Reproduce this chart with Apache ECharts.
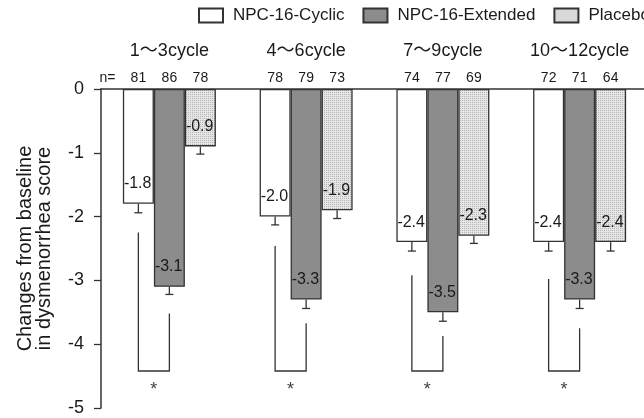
<!DOCTYPE html>
<html>
<head>
<meta charset="utf-8">
<script src="https://cdn.jsdelivr.net/npm/echarts@6/dist/echarts.min.js"></script>
<style>
html, body { margin: 0; padding: 0; background: #fff; }
#show { width: 644px; height: 418px; }
</style>
</head>
<body>
<div id="show"></div>
<script>
var cycles = ['1～3cycle', '4～6cycle', '7～9cycle', '10～12cycle'];
var groupNames = ['NPC-16-Cyclic', 'NPC-16-Extended', 'Placebo'];

var cyclicVals = [-1.8, -2.0, -2.4, -2.4];
var extendedVals = [-3.1, -3.3, -3.5, -3.3];
var placeboVals = [-0.9, -1.9, -2.3, -2.4];

// standard errors (only the lower whisker is drawn)
var cyclicErr = [0.14, 0.13, 0.14, 0.14];
var extendedErr = [0.12, 0.14, 0.14, 0.14];
var placeboErr = [0.12, 0.13, 0.12, 0.14];

var cyclicN = [81, 78, 74, 72];
var extendedN = [86, 79, 77, 71];
var placeboN = [78, 73, 69, 64];

// significance brackets cyclic vs extended: left leg top, right leg top
var bracketLeft = [-2.25, -2.46, -2.92, -2.98];
var bracketRight = [-3.52, -3.67, -3.87, -3.75];
var bracketBottom = -4.42;
var starLevel = -4.72;

var FONT = '"Liberation Sans", Arial, "Noto Sans CJK SC", sans-serif';
var BAR_W = 31;
var INK = '#333';

// dotted fill for placebo
var dots = document.createElement('canvas');
dots.width = 2;
dots.height = 2;
var dctx = dots.getContext('2d');
dctx.fillStyle = '#e6e6e6';
dctx.fillRect(0, 0, 2, 2);
dctx.fillStyle = '#b4b4b4';
dctx.fillRect(0, 0, 1, 1);

var myChart = echarts.init(document.getElementById('show'));

function barSeries(name, vals, color) {
    return {
        name: name,
        type: 'bar',
        data: vals,
        barWidth: BAR_W,
        barGap: '0%',
        itemStyle: { color: color, borderColor: INK, borderWidth: 1.3 },
        label: {
            show: true,
            position: [1, '100%'],
            offset: [0, -20],
            align: 'left',
            verticalAlign: 'middle',
            fontSize: 16,
            fontFamily: FONT,
            color: '#1a1a1a',
            formatter: function (p) { return p.value.toFixed(1); }
        },
        emphasis: { disabled: true }
    };
}

function errSeries(idx, vals, errs) {
    return {
        type: 'custom',
        silent: true,
        z: 5,
        data: vals.map(function (v, i) { return [i, v, errs[i]]; }),
        encode: { x: 0, y: 1 },
        renderItem: function (params, api) {
            var top = api.coord([api.value(0), api.value(1)]);
            var low = api.coord([api.value(0), api.value(1) - api.value(2)]);
            var x = top[0] + (idx - 1) * BAR_W;
            var st = { stroke: INK, lineWidth: 1.3 };
            return {
                type: 'group',
                children: [
                    { type: 'line', shape: { x1: x, y1: top[1], x2: x, y2: low[1] }, style: st },
                    { type: 'line', shape: { x1: x - 4, y1: low[1], x2: x + 4, y2: low[1] }, style: st }
                ]
            };
        }
    };
}

var bracketSeries = {
    type: 'custom',
    silent: true,
    z: 5,
    data: cycles.map(function (c, i) { return [i, bracketLeft[i], bracketRight[i], bracketBottom]; }),
    encode: { x: 0, y: 1 },
    renderItem: function (params, api) {
        var i = api.value(0);
        var l = api.coord([i, api.value(1)]);
        var r = api.coord([i, api.value(2)]);
        var b = api.coord([i, api.value(3)]);
        var s = api.coord([i, starLevel]);
        var xl = l[0] - BAR_W, xr = l[0];
        return {
            type: 'group',
            children: [
                {
                    type: 'polyline',
                    shape: { points: [[xl, l[1]], [xl, b[1]], [xr, b[1]], [xr, r[1]]] },
                    style: { stroke: INK, lineWidth: 1.3, fill: null }
                },
                {
                    type: 'text',
                    x: l[0] - BAR_W / 2,
                    y: s[1],
                    style: { text: '*', fontSize: 18, fontFamily: FONT, fill: '#444', align: 'center', verticalAlign: 'middle' }
                }
            ]
        };
    }
};

myChart.setOption({
    animation: false,
    textStyle: { fontFamily: FONT },
    legend: {
        data: groupNames,
        left: 198,
        top: 7,
        width: 600,
        padding: 0,
        itemWidth: 24,
        itemHeight: 14,
        itemGap: 18,
        icon: 'rect',
        textStyle: { fontSize: 17, color: '#1a1a1a', fontFamily: FONT, padding: [0, 0, 0, 5] }
    },
    grid: { left: 101, right: -4, top: 89, bottom: 10, outerBoundsMode: 'none', containLabel: false },
    xAxis: {
        type: 'category',
        data: cycles,
        position: 'top',
        axisLine: { show: true, lineStyle: { color: INK, width: 1.5 } },
        axisTick: { show: false },
        axisLabel: {
            interval: 0,
            margin: 2,
            color: '#1a1a1a',
            formatter: function (v, i) {
                return '{t|' + v + '}\n' + (i === 0 ? '{p|n=}' : '{p|}') +
                    '{c|' + cyclicN[i] + '}{c|' + extendedN[i] + '}{c|' + placeboN[i] + '}{p|}';
            },
            rich: {
                t: { fontSize: 18, lineHeight: 36, align: 'center', fontFamily: FONT, color: '#1a1a1a' },
                c: { fontSize: 14, lineHeight: 18, width: BAR_W, align: 'center', fontFamily: FONT, color: '#1a1a1a' },
                p: { fontSize: 14, lineHeight: 18, width: BAR_W, align: 'center', fontFamily: FONT, color: '#1a1a1a' }
            }
        }
    },
    yAxis: {
        type: 'value',
        min: -5,
        max: 0,
        interval: 1,
        name: 'Changes from baseline\nin dysmenorrhea score',
        nameLocation: 'middle',
        nameRotate: 90,
        nameGap: 47,
        nameTextStyle: { fontSize: 20, lineHeight: 19, color: '#1a1a1a', fontFamily: FONT },
        axisLine: { show: true, lineStyle: { color: INK, width: 1.5 } },
        axisTick: { show: true, length: 7, lineStyle: { color: INK, width: 1.3 } },
        axisLabel: { fontSize: 18, color: '#1a1a1a', margin: 17, fontFamily: FONT },
        splitLine: { show: false }
    },
    series: [
        barSeries(groupNames[0], cyclicVals, '#ffffff'),
        barSeries(groupNames[1], extendedVals, '#8c8c8c'),
        barSeries(groupNames[2], placeboVals, { image: dots, repeat: 'repeat' }),
        errSeries(0, cyclicVals, cyclicErr),
        errSeries(1, extendedVals, extendedErr),
        errSeries(2, placeboVals, placeboErr),
        bracketSeries
    ]
});
</script>
</body>
</html>
